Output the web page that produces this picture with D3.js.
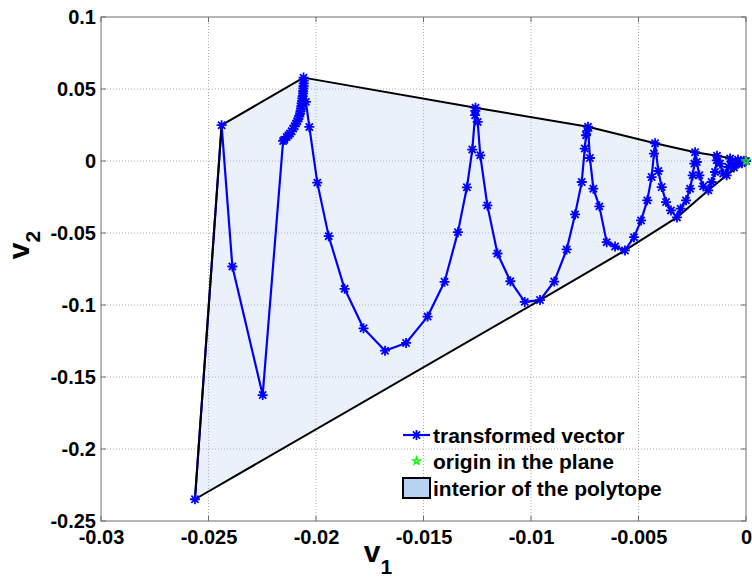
<!DOCTYPE html>
<html>
<head>
<meta charset="utf-8">
<script src="https://cdn.jsdelivr.net/npm/d3@7"></script>
<style>
    body { margin: 0; background: #fff; }
    text { font-family: 'Liberation Sans', Arial, sans-serif; font-weight: bold; fill: #000; }
</style>
</head>
<body>
<div id="chart"></div>
<script>
// Trajectory of the transformed vector (v1, v2)
const v1 = [
    -0.02563, -0.02439, -0.02389, -0.02248, -0.02153,
    -0.02147, -0.02136, -0.02128, -0.02121, -0.02113, -0.02106, -0.02099, -0.02093, -0.02087,
    -0.02082, -0.02078, -0.02074, -0.02072, -0.0207, -0.02068, -0.02067, -0.02065, -0.02064,
    -0.02062, -0.0206, -0.0206, -0.02059, -0.02058, -0.02057, -0.02057, -0.02058,
    -0.02047, -0.02031, -0.01994, -0.01941, -0.01867, -0.01779, -0.01679, -0.01581, -0.01481,
    -0.01402, -0.0134, -0.01298, -0.01273, -0.0126, -0.01259, -0.01258, -0.01248, -0.01236,
    -0.01203, -0.01156, -0.01096, -0.01029, -0.00958, -0.00892, -0.00834, -0.00795, -0.00764,
    -0.0075, -0.00744, -0.00738, -0.00735, -0.00726, -0.0071, -0.00682, -0.00648, -0.00609,
    -0.00563, -0.00521, -0.00488, -0.00459, -0.00439, -0.00428, -0.00423, -0.00408, -0.00392,
    -0.00372, -0.00349, -0.00321, -0.00304, -0.00279, -0.0026, -0.00248, -0.0024, -0.00237,
    -0.00229, -0.00217, -0.00199, -0.00175, -0.0016, -0.00144, -0.00136, -0.00135, -0.00121,
    -0.00106, -0.0009, -0.00082, -0.00074, -0.00065, -0.00056, -0.00047, -0.00037, -0.00028,
    -0.00019, -0.0001, 0
];
const v2 = [
    -0.2349, 0.02485, -0.07326, -0.16254, 0.01393,
    0.01476, 0.01671, 0.01789, 0.01907, 0.02068, 0.02255, 0.02415, 0.02603, 0.02763,
    0.02951, 0.03111, 0.03299, 0.03459, 0.03647, 0.03807, 0.03995, 0.04155, 0.04343,
    0.04503, 0.04691, 0.04851, 0.05039, 0.05199, 0.05387, 0.05581, 0.0579,
    0.04106, 0.02367, -0.01502, -0.05218, -0.08878, -0.1162, -0.13171, -0.12635, -0.10805,
    -0.08391, -0.0494, -0.01829, 0.00794, 0.03181, 0.0348, 0.03703, 0.02715, 0.00397,
    -0.03082, -0.06422, -0.08349, -0.09783, -0.09657, -0.0837, -0.06143, -0.03708, -0.0146,
    0.00864, 0.01789, 0.02088, 0.02381, 0.0021, -0.0192, -0.03151, -0.05635, -0.05935,
    -0.06213, -0.05288, -0.04125, -0.02734, -0.01113, 0.00516, 0.01233, -0.00695, -0.01808,
    -0.02852, -0.0343, -0.03917, -0.03311, -0.02734, -0.0192, -0.00994, -0.0018, 0.00606,
    -0.00069, -0.00994, -0.0176, -0.02038, -0.0146, -0.00765, 0.0005, 0.00363, -0.0018,
    -0.00876, -0.00994, -0.00416, 0.00171, -0.0009, -0.00455, -0.0025, 0.0009, -0.0008,
    -0.0015, 0.0002, 0
];

// Vertices of the polytope
const polyV1 = [-0.02563, -0.02439, -0.02058, -0.01258, -0.00735, -0.00423, -0.00237, -0.00135, 0, -0.0009, -0.00175, -0.00321, -0.00563, -0.00958];
const polyV2 = [-0.2349, 0.02485, 0.0579, 0.03703, 0.02381, 0.01233, 0.00606, 0.00363, 0, -0.00994, -0.02038, -0.03917, -0.06213, -0.09657];

// Origin
const originV1 = [0];
const originV2 = [0];

// Ticks
const xTicks = [-0.03, -0.025, -0.02, -0.015, -0.01, -0.005, 0];
const xTickLabels = ['-0.03', '-0.025', '-0.02', '-0.015', '-0.01', '-0.005', '0'];
const yTicks = [0.1, 0.05, 0, -0.05, -0.1, -0.15, -0.2, -0.25];
const yTickLabels = ['0.1', '0.05', '0', '-0.05', '-0.1', '-0.15', '-0.2', '-0.25'];

const legendLabels = ['transformed vector', 'origin in the plane', 'interior of the polytope'];

const size = { width: 752, height: 581 };
const margin = { left: 101, top: 17, right: 6, bottom: 60 };

const xScale = d3.scaleLinear().domain([-0.03, 0]).range([margin.left, size.width - margin.right]);
const yScale = d3.scaleLinear().domain([-0.25, 0.1]).range([size.height - margin.bottom, margin.top]);

const svg = d3.select('#chart')
    .append('svg')
    .attr('width', size.width)
    .attr('height', size.height);

const x0 = xScale.range()[0], x1 = xScale.range()[1];
const yTop = yScale.range()[1], yBot = yScale.range()[0];

// Dotted grid
const grid = svg.append('g').attr('class', 'grid');
grid.selectAll('line.gx')
    .data(xTicks.slice(1, -1))
    .enter().append('line')
    .attr('x1', d => xScale(d)).attr('x2', d => xScale(d))
    .attr('y1', yTop).attr('y2', yBot)
    .style('stroke', '#a8a8a8').style('stroke-dasharray', '1,2');
grid.selectAll('line.gy')
    .data(yTicks.slice(1, -1))
    .enter().append('line')
    .attr('x1', x0).attr('x2', x1)
    .attr('y1', d => yScale(d)).attr('y2', d => yScale(d))
    .style('stroke', '#a8a8a8').style('stroke-dasharray', '1,2');

// Polytope interior
const polyPoints = polyV1.map((d, i) => [xScale(d), yScale(polyV2[i])]);
svg.append('polygon')
    .attr('points', polyPoints.map(p => p.join(',')).join(' '))
    .style('fill', '#b9d2f2')
    .style('fill-opacity', 0.3)
    .style('stroke', 'none');

// Trajectory line
const line = d3.line()
    .x(d => xScale(d[0]))
    .y(d => yScale(d[1]));
const trajectory = v1.map((d, i) => [d, v2[i]]);
svg.append('path')
    .datum(trajectory)
    .attr('d', line)
    .style('fill', 'none')
    .style('stroke', '#0000ff')
    .style('stroke-width', 2.2)
    .style('stroke-linejoin', 'round');

// Polytope outline
svg.append('polygon')
    .attr('points', polyPoints.map(p => p.join(',')).join(' '))
    .style('fill', 'none')
    .style('stroke', '#000')
    .style('stroke-width', 2)
    .style('stroke-linejoin', 'round');

// asterisk marker like matlab '*'
const asteriskPath = function (r) {
    const d = r * 0.72;
    return `M${-r},0L${r},0M0,${-r}L0,${r}M${-d},${-d}L${d},${d}M${-d},${d}L${d},${-d}`;
};

svg.append('g')
    .selectAll('path')
    .data(trajectory)
    .enter().append('path')
    .attr('transform', d => 'translate(' + xScale(d[0]) + ',' + yScale(d[1]) + ')')
    .attr('d', asteriskPath(5))
    .style('stroke', '#0000ff')
    .style('stroke-width', 1.8)
    .style('fill', 'none');

// Origin marker
const starSymbol = d3.symbol().type(d3.symbolStar).size(16);
svg.append('g')
    .selectAll('path')
    .data(originV1.map((d, i) => [d, originV2[i]]))
    .enter().append('path')
    .attr('transform', d => 'translate(' + xScale(d[0]) + ',' + yScale(d[1]) + ')')
    .attr('d', starSymbol)
    .style('fill', 'none')
    .style('stroke', '#00ff00')
    .style('stroke-width', 1.4);

// Axes box
svg.append('rect')
    .attr('x', x0).attr('y', yTop)
    .attr('width', x1 - x0).attr('height', yBot - yTop)
    .style('fill', 'none')
    .style('stroke', '#6e6e6e')
    .style('stroke-width', 1);

// Small inside ticks on all sides
const tickLen = 5;
const ticks = svg.append('g').style('stroke', '#6e6e6e');
xTicks.forEach(t => {
    ticks.append('line').attr('x1', xScale(t)).attr('x2', xScale(t)).attr('y1', yBot).attr('y2', yBot - tickLen);
    ticks.append('line').attr('x1', xScale(t)).attr('x2', xScale(t)).attr('y1', yTop).attr('y2', yTop + tickLen);
});
yTicks.forEach(t => {
    ticks.append('line').attr('x1', x0).attr('x2', x0 + tickLen).attr('y1', yScale(t)).attr('y2', yScale(t));
    ticks.append('line').attr('x1', x1).attr('x2', x1 - tickLen).attr('y1', yScale(t)).attr('y2', yScale(t));
});

// Tick labels through d3 axes
const xAxis = d3.axisBottom(xScale)
    .tickValues(xTicks)
    .tickFormat((d, i) => xTickLabels[i])
    .tickSize(0)
    .tickPadding(9);
const gx = svg.append('g')
    .attr('transform', 'translate(0,' + yBot + ')')
    .call(xAxis);
gx.select('.domain').remove();
gx.selectAll('text').style('font-size', '20px').style('font-family', null);

const yAxis = d3.axisLeft(yScale)
    .tickValues(yTicks)
    .tickFormat((d, i) => yTickLabels[i])
    .tickSize(0)
    .tickPadding(5);
const gy = svg.append('g')
    .attr('transform', 'translate(' + x0 + ',0)')
    .call(yAxis);
gy.select('.domain').remove();
gy.selectAll('text').style('font-size', '20px').style('font-family', null);

// Axis labels
const xLabel = svg.append('text')
    .attr('x', 378)
    .attr('y', 562)
    .attr('text-anchor', 'middle')
    .style('font-size', '30px');
xLabel.append('tspan').text('v');
xLabel.append('tspan').attr('dy', 12).style('font-size', '21px').text('1');

const yLabel = svg.append('text')
    .attr('transform', 'translate(29,245) rotate(-90)')
    .attr('text-anchor', 'middle')
    .style('font-size', '30px');
yLabel.append('tspan').text('v');
yLabel.append('tspan').attr('dy', 11).style('font-size', '21px').text('2');

// Legend
const legend = svg.append('g').attr('class', 'legend');
const legendX = 403;
const legendRowY = [435, 461, 488];

legend.append('line')
    .attr('x1', legendX).attr('x2', legendX + 27)
    .attr('y1', legendRowY[0]).attr('y2', legendRowY[0])
    .style('stroke', '#0000ff').style('stroke-width', 2.2);
legend.append('path')
    .attr('transform', 'translate(' + (legendX + 13.5) + ',' + legendRowY[0] + ')')
    .attr('d', asteriskPath(5))
    .style('stroke', '#0000ff').style('stroke-width', 1.8);
legend.append('path')
    .attr('transform', 'translate(' + (legendX + 13.5) + ',' + legendRowY[1] + ')')
    .attr('d', starSymbol)
    .style('fill', 'none').style('stroke', '#00ff00').style('stroke-width', 1.4);
legend.append('rect')
    .attr('x', legendX).attr('y', legendRowY[2] - 10)
    .attr('width', 27).attr('height', 20)
    .style('fill', '#b9d2f2')
    .style('stroke', '#000').style('stroke-width', 2);

legend.selectAll('text')
    .data(legendLabels)
    .enter().append('text')
    .attr('x', legendX + 30)
    .attr('y', (d, i) => legendRowY[i] + 7.5)
    .style('font-size', '21px')
    .text(d => d);
</script>
</body>
</html>
